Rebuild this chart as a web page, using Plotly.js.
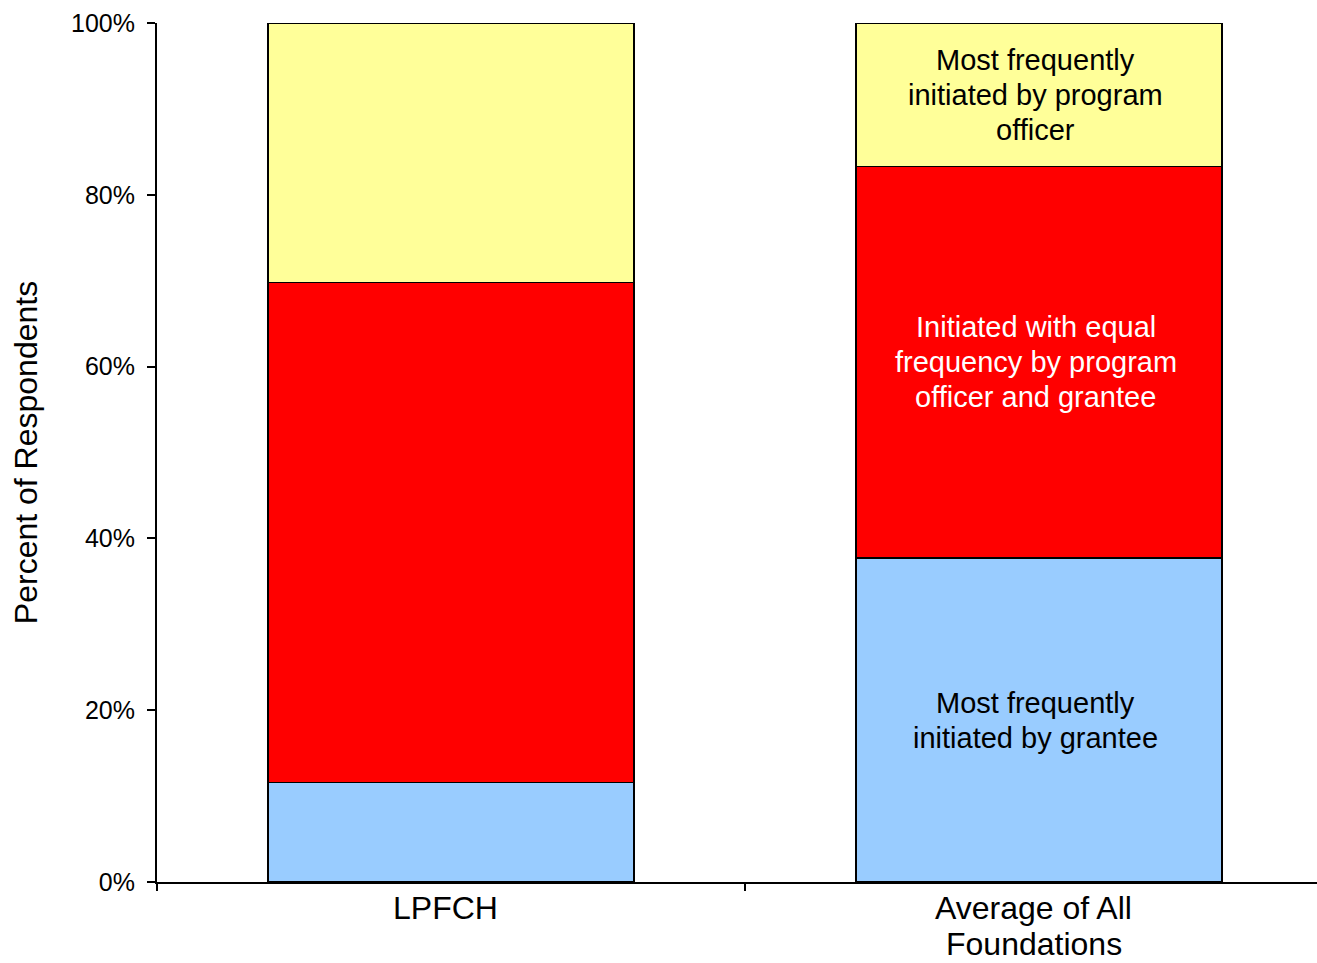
<!DOCTYPE html>
<html>
<head>
<meta charset="utf-8">
<script src="https://cdn.plot.ly/plotly-3.0.1.min.js"></script>
<style>html,body{margin:0;padding:0;background:#fff;}#chart{width:1317px;height:963px;}</style>
</head>
<body>
<div id="chart"></div>
<script>
const categories = ["LPFCH", "Average of All<br>Foundations"];
const seriesNames = ["Most frequently initiated by grantee", "Initiated with equal frequency by program officer and grantee", "Most frequently initiated by program officer"];
const grantee = [11.6, 37.7];
const equalFreq = [58.2, 45.6];
const programOfficer = [30.2, 16.7];
const segmentLabels = [
  "Most frequently<br>initiated by grantee",
  "Initiated with equal<br>frequency by program<br>officer and grantee",
  "Most frequently<br>initiated by program<br>officer"
];
const yTickVals = [0, 20, 40, 60, 80, 100];
const yTickText = ["0%", "20%", "40%", "60%", "80%", "100%"];

const colors = ["#99CCFF", "#FF0000", "#FFFF99"];
const labelColors = ["#000000", "#FFFFFF", "#000000"];
const series = [grantee, equalFreq, programOfficer];
const FONT = "Liberation Sans, Arial, sans-serif";

const traces = series.map((vals, i) => ({
  type: "bar",
  name: seriesNames[i],
  x: categories,
  y: vals,
  width: 0.623,
  marker: {color: colors[i], line: {color: "#000", width: 1.5}},
  hoverinfo: "none"
}));

const annotations = [];
// segment labels on the second bar, one annotation per line for exact line spacing
let cum = 0;
const LINE = 35;
series.forEach((vals, i) => {
  const v = vals[1];
  const lines = segmentLabels[i].split("<br>");
  lines.forEach((ln, k) => {
    annotations.push({
      x: categories[1], y: cum + v / 2, xref: "x", yref: "y",
      text: ln, showarrow: false,
      xshift: -3,
      yshift: -((k - (lines.length - 1) / 2) * LINE),
      font: {family: FONT, size: 29, color: labelColors[i]},
      align: "center", yanchor: "middle"
    });
  });
  cum += v;
});

// category labels, one annotation per line
const CAT_LINE = 36;
categories.forEach((c) => {
  c.split("<br>").forEach((ln, k) => {
    annotations.push({
      x: c, y: 0, xref: "x", yref: "paper",
      text: ln, showarrow: false,
      xshift: -5,
      yanchor: "top",
      yshift: -6 - k * CAT_LINE,
      font: {family: FONT, size: 32, color: "#000"},
      align: "center"
    });
  });
});

const layout = {
  width: 1317, height: 963,
  barmode: "stack",
  showlegend: false,
  paper_bgcolor: "#fff", plot_bgcolor: "#fff",
  margin: {l: 157, r: 0, t: 23, b: 81, pad: 0},
  font: {family: FONT, color: "#000"},
  xaxis: {
    type: "category",
    range: [-0.5, 1.473],
    tickson: "boundaries",
    ticks: "outside", ticklen: 7, tickwidth: 2, tickcolor: "#000",
    showline: true, linecolor: "#000", linewidth: 2,
    showgrid: false, zeroline: false,
    showticklabels: false
  },
  yaxis: {
    range: [0, 100],
    tickvals: yTickVals, ticktext: yTickText,
    ticks: "outside", ticklen: 8, tickwidth: 2, tickcolor: "#000",
    ticklabelstandoff: 7,
    showline: true, linecolor: "#000", linewidth: 2,
    showgrid: false, zeroline: false,
    tickfont: {family: FONT, size: 25, color: "#000"},
    title: {text: "Percent of Respondents", font: {family: FONT, size: 32, color: "#000"}, standoff: 24}
  },
  annotations: annotations
};

Plotly.newPlot("chart", traces, layout, {staticPlot: true, displayModeBar: false});
</script>
</body>
</html>
